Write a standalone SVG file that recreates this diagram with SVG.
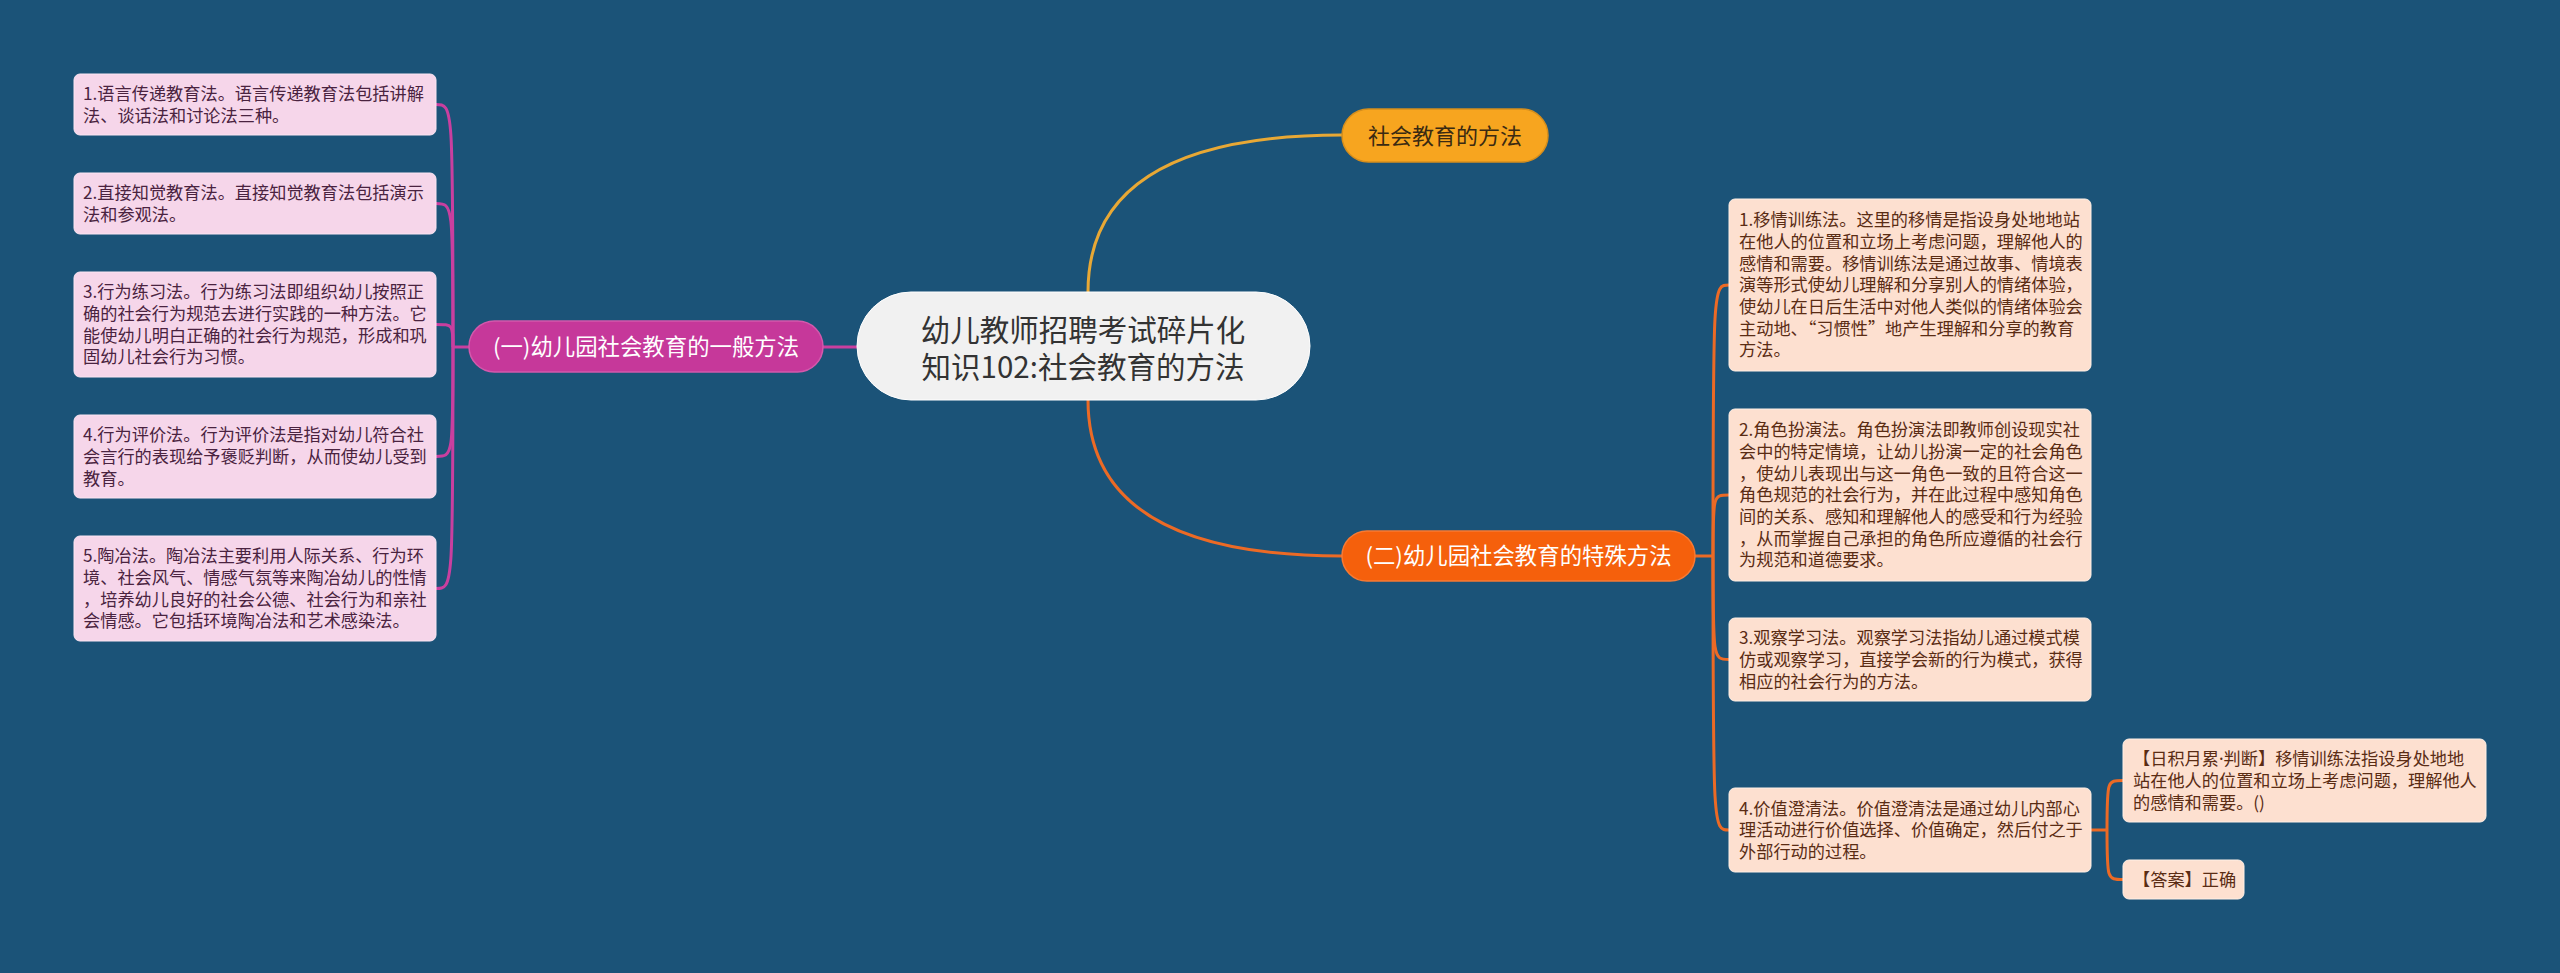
<svg xmlns="http://www.w3.org/2000/svg" width="2560" height="973" viewBox="0 0 2560 973">
<style>
text{font-family:"Noto Sans CJK SC","Noto Sans",sans-serif;}
.leafL{fill:#f6d6ea;stroke:#fbe6f3;stroke-width:1;}
.leafR{fill:#fde0d0;stroke:#fff0e6;stroke-width:1;}
.tL{font-size:17.2px;fill:#4a2340;}
.tR{font-size:17.2px;fill:#5a2c14;}
.cm{fill:none;stroke:#c93f9f;stroke-width:3;}
.co{fill:none;stroke:#ec6a25;stroke-width:3;}
.cy{fill:none;stroke:#e8a835;stroke-width:3;}
</style>
<rect width="2560" height="973" fill="#1b5378"/>

<g id="connectors">
  <path class="cy" d="M1088 292 Q1088 135 1342 135"/>
  <path class="co" d="M1088 400 Q1088 556 1342 556"/>
  <path class="cm" d="M857 347 H823"/>
  <path class="cm" d="M469 347 H453"/>
  <path class="cm" d="M453 347 C453 104.5 453 104.5 436 104.5"/>
  <path class="cm" d="M453 347 C453 203.5 453 203.5 436 203.5"/>
  <path class="cm" d="M453 347 C453 324.5 453 324.5 436 324.5"/>
  <path class="cm" d="M453 347 C453 456.5 453 456.5 436 456.5"/>
  <path class="cm" d="M453 347 C453 588.5 453 588.5 436 588.5"/>
  <path class="co" d="M1695 556 H1713"/>
  <path class="co" d="M1713 556 C1713 285 1713 285 1729 285"/>
  <path class="co" d="M1713 556 C1713 495 1713 495 1729 495"/>
  <path class="co" d="M1713 556 C1713 659.5 1713 659.5 1729 659.5"/>
  <path class="co" d="M1713 556 C1713 830 1713 830 1729 830"/>
  <path class="co" d="M2091 830 H2107"/>
  <path class="co" d="M2107 830 C2107 780.5 2107 780.5 2123 780.5"/>
  <path class="co" d="M2107 830 C2107 879.5 2107 879.5 2123 879.5"/>
</g>

<g id="center">
  <rect x="857" y="292" width="453" height="108" rx="54" fill="#f1f1f1" stroke="#ffffff" stroke-width="1"/>
  <text x="1083" y="341" font-size="29.5" fill="#333333" text-anchor="middle">幼儿教师招聘考试碎片化</text>
  <text x="1083" y="378" font-size="29.5" fill="#333333" text-anchor="middle">知识102:社会教育的方法</text>
</g>

<g id="topic-yellow">
  <rect x="1342" y="109" width="206" height="53" rx="26.5" fill="#f7a51f" stroke="#d68e1c" stroke-width="1.5"/>
  <text x="1445" y="144" font-size="22" fill="#3a2a12" text-anchor="middle">社会教育的方法</text>
</g>

<g id="branch-general">
  <rect x="469" y="321" width="354" height="51" rx="25.5" fill="#c6389a" stroke="#d458ac" stroke-width="1.5"/>
  <text x="646" y="354.8" font-size="22.4" fill="#ffffff" text-anchor="middle">(一)幼儿园社会教育的一般方法</text>
</g>

<g id="branch-special">
  <rect x="1342" y="531" width="353" height="50" rx="25" fill="#f5600c" stroke="#f87a33" stroke-width="1.5"/>
  <text x="1518.5" y="564.3" font-size="22.4" fill="#ffffff" text-anchor="middle">(二)幼儿园社会教育的特殊方法</text>
</g>

<g id="leaf-L1">
  <rect class="leafL" x="74" y="74" width="362" height="61" rx="6"/>
  <text class="tL" x="83" y="100"><tspan x="83">1.语言传递教育法。语言传递教育法包括讲解</tspan><tspan x="83" dy="21.7">法、谈话法和讨论法三种。</tspan></text>
</g>
<g id="leaf-L2">
  <rect class="leafL" x="74" y="173" width="362" height="61" rx="6"/>
  <text class="tL" x="83" y="199"><tspan x="83">2.直接知觉教育法。直接知觉教育法包括演示</tspan><tspan x="83" dy="21.7">法和参观法。</tspan></text>
</g>
<g id="leaf-L3">
  <rect class="leafL" x="74" y="272" width="362" height="105" rx="6"/>
  <text class="tL" x="83" y="298.3"><tspan x="83">3.行为练习法。行为练习法即组织幼儿按照正</tspan><tspan x="83" dy="21.7">确的社会行为规范去进行实践的一种方法。它</tspan><tspan x="83" dy="21.7">能使幼儿明白正确的社会行为规范，形成和巩</tspan><tspan x="83" dy="21.7">固幼儿社会行为习惯。</tspan></text>
</g>
<g id="leaf-L4">
  <rect class="leafL" x="74" y="415" width="362" height="83" rx="6"/>
  <text class="tL" x="83" y="441.1"><tspan x="83">4.行为评价法。行为评价法是指对幼儿符合社</tspan><tspan x="83" dy="21.7">会言行的表现给予褒贬判断，从而使幼儿受到</tspan><tspan x="83" dy="21.7">教育。</tspan></text>
</g>
<g id="leaf-L5">
  <rect class="leafL" x="74" y="536" width="362" height="105" rx="6"/>
  <text class="tL" x="83" y="562.3"><tspan x="83">5.陶冶法。陶冶法主要利用人际关系、行为环</tspan><tspan x="83" dy="21.7">境、社会风气、情感气氛等来陶冶幼儿的性情</tspan><tspan x="83" dy="21.7">，培养幼儿良好的社会公德、社会行为和亲社</tspan><tspan x="83" dy="21.7">会情感。它包括环境陶冶法和艺术感染法。</tspan></text>
</g>

<g id="leaf-R1">
  <rect class="leafR" x="1729" y="199" width="362" height="172" rx="6"/>
  <text class="tR" x="1739" y="226.2"><tspan x="1739">1.移情训练法。这里的移情是指设身处地地站</tspan><tspan x="1739" dy="21.7">在他人的位置和立场上考虑问题，理解他人的</tspan><tspan x="1739" dy="21.7">感情和需要。移情训练法是通过故事、情境表</tspan><tspan x="1739" dy="21.7">演等形式使幼儿理解和分享别人的情绪体验，</tspan><tspan x="1739" dy="21.7">使幼儿在日后生活中对他人类似的情绪体验会</tspan><tspan x="1739" dy="21.7">主动地、“习惯性”地产生理解和分享的教育</tspan><tspan x="1739" dy="21.7">方法。</tspan></text>
</g>
<g id="leaf-R2">
  <rect class="leafR" x="1729" y="409" width="362" height="172" rx="6"/>
  <text class="tR" x="1739" y="436.2"><tspan x="1739">2.角色扮演法。角色扮演法即教师创设现实社</tspan><tspan x="1739" dy="21.7">会中的特定情境，让幼儿扮演一定的社会角色</tspan><tspan x="1739" dy="21.7">，使幼儿表现出与这一角色一致的且符合这一</tspan><tspan x="1739" dy="21.7">角色规范的社会行为，并在此过程中感知角色</tspan><tspan x="1739" dy="21.7">间的关系、感知和理解他人的感受和行为经验</tspan><tspan x="1739" dy="21.7">，从而掌握自己承担的角色所应遵循的社会行</tspan><tspan x="1739" dy="21.7">为规范和道德要求。</tspan></text>
</g>
<g id="leaf-R3">
  <rect class="leafR" x="1729" y="618" width="362" height="83" rx="6"/>
  <text class="tR" x="1739" y="644.1"><tspan x="1739">3.观察学习法。观察学习法指幼儿通过模式模</tspan><tspan x="1739" dy="21.7">仿或观察学习，直接学会新的行为模式，获得</tspan><tspan x="1739" dy="21.7">相应的社会行为的方法。</tspan></text>
</g>
<g id="leaf-R4">
  <rect class="leafR" x="1729" y="788" width="362" height="84" rx="6"/>
  <text class="tR" x="1739" y="814.6"><tspan x="1739">4.价值澄清法。价值澄清法是通过幼儿内部心</tspan><tspan x="1739" dy="21.7">理活动进行价值选择、价值确定，然后付之于</tspan><tspan x="1739" dy="21.7">外部行动的过程。</tspan></text>
</g>
<g id="leaf-R4a">
  <rect class="leafR" x="2123" y="739" width="363" height="83" rx="6"/>
  <text class="tR" x="2133" y="765.1"><tspan x="2133">【日积月累<tspan font-family="Noto Sans, sans-serif">·</tspan>判断】移情训练法指设身处地地</tspan><tspan x="2133" dy="21.7">站在他人的位置和立场上考虑问题，理解他人</tspan><tspan x="2133" dy="21.7">的感情和需要。()</tspan></text>
</g>
<g id="leaf-R4b">
  <rect class="leafR" x="2123" y="860" width="121" height="39" rx="6"/>
  <text class="tR" x="2133" y="885.8">【答案】正确</text>
</g>
</svg>
